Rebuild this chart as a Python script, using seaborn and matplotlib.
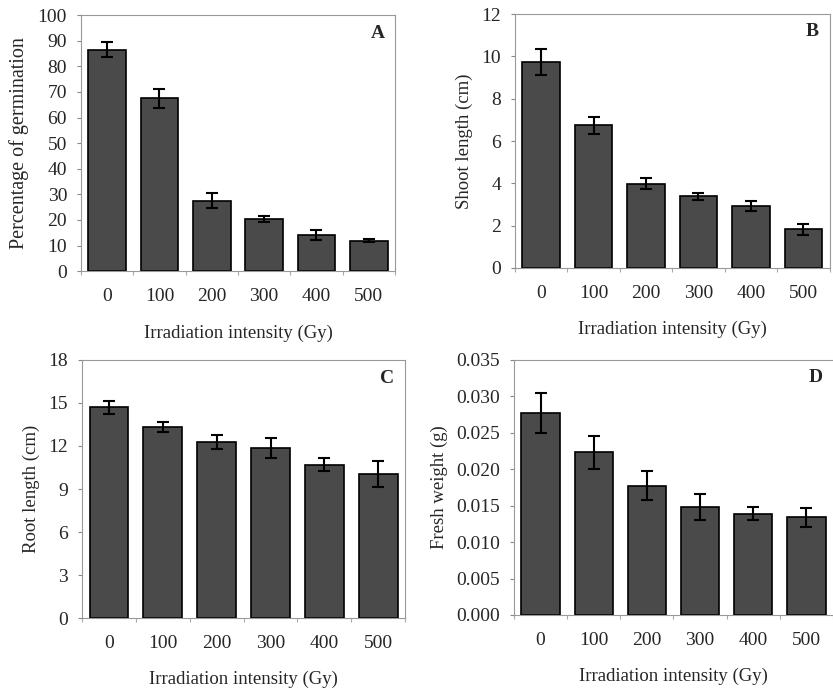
import numpy as np
import pandas as pd
import matplotlib
matplotlib.use("Agg")
import matplotlib.pyplot as plt
import seaborn as sns

# data
doses = ["0", "100", "200", "300", "400", "500"]

germ_mean = [86.5, 67.5, 27.5, 20.5, 14.0, 11.8]
germ_err = [3.0, 3.8, 3.0, 1.2, 2.0, 0.6]

shoot_mean = [9.73, 6.75, 3.98, 3.38, 2.92, 1.82]
shoot_err = [0.63, 0.4, 0.25, 0.18, 0.23, 0.27]

root_mean = [14.7, 13.3, 12.3, 11.85, 10.7, 10.03]
root_err = [0.45, 0.35, 0.5, 0.7, 0.45, 0.9]

fresh_mean = [0.0277, 0.0223, 0.0177, 0.0148, 0.0139, 0.0134]
fresh_err = [0.0027, 0.0023, 0.0020, 0.0018, 0.0009, 0.0013]

ylabels = ["Percentage of germination", "Shoot length (cm)", "Root length (cm)", "Fresh weight (g)"]
letters = ["A", "B", "C", "D"]
yticks = [np.arange(0, 101, 10), np.arange(0, 13, 2), np.arange(0, 19, 3), np.arange(0, 0.0351, 0.005)]
ylims = [(0, 100), (0, 12), (0, 18), (0, 0.035)]
tickfmt = ["{:.0f}", "{:.0f}", "{:.0f}", "{:.3f}"]

sns.set_theme(style="ticks")
plt.rcParams["font.family"] = ["Liberation Serif", "DejaVu Serif"]

fig = plt.figure(figsize=(8.33, 6.9), dpi=100)
positions = [
    [0.0972, 0.607, 0.377, 0.371],
    [0.618, 0.6116, 0.378, 0.368],
    [0.0984, 0.1043, 0.388, 0.374],
    [0.617, 0.1087, 0.383, 0.370],
]
panels = [(germ_mean, germ_err), (shoot_mean, shoot_err), (root_mean, root_err), (fresh_mean, fresh_err)]
xlims = [(-0.5, 5.5), (-0.38, 5.5), (-0.5, 5.5), (-0.5, 5.38)]
ylab_size = [14.5, 13.5, 13.5, 13.5]

for i, (means, errs) in enumerate(panels):
    ax = fig.add_axes(positions[i])
    df = pd.DataFrame({"dose": doses, "value": means})
    sns.barplot(data=df, x="dose", y="value", ax=ax, color="#4a4a4a",
                saturation=1, width=0.72, edgecolor="black", linewidth=1.2,
                errorbar=None)
    ax.errorbar(np.arange(len(doses)), means, yerr=errs, fmt="none",
                ecolor="black", elinewidth=1.5, capsize=4.5, capthick=1.5)
    ax.set_ylim(*ylims[i])
    ax.set_xlim(*xlims[i])
    ax.set_yticks(yticks[i])
    ax.set_yticklabels([tickfmt[i].format(t) for t in yticks[i]])
    ax.set_ylabel(ylabels[i], fontsize=ylab_size[i], labelpad=6)
    ax.set_xlabel("Irradiation intensity (Gy)", fontsize=13.5, labelpad=14)
    ax.tick_params(axis="y", length=3, width=0.8, color="#888888", pad=7, labelsize=14)
    ax.tick_params(axis="x", length=0, pad=12, labelsize=14)
    ax.set_xticks(np.arange(-0.5, 5.6, 1.0), minor=True)
    ax.tick_params(axis="x", which="minor", length=3, width=0.8, color="#aaaaaa")
    for s in ax.spines.values():
        s.set_color("#999999")
        s.set_linewidth(0.8)
    if i == 3:
        ax.spines["right"].set_visible(False)
    ax.text(0.945, 0.93, letters[i], transform=ax.transAxes, fontsize=14,
            fontweight="bold", ha="center", va="center")

plt.savefig("out.png", dpi=100)
